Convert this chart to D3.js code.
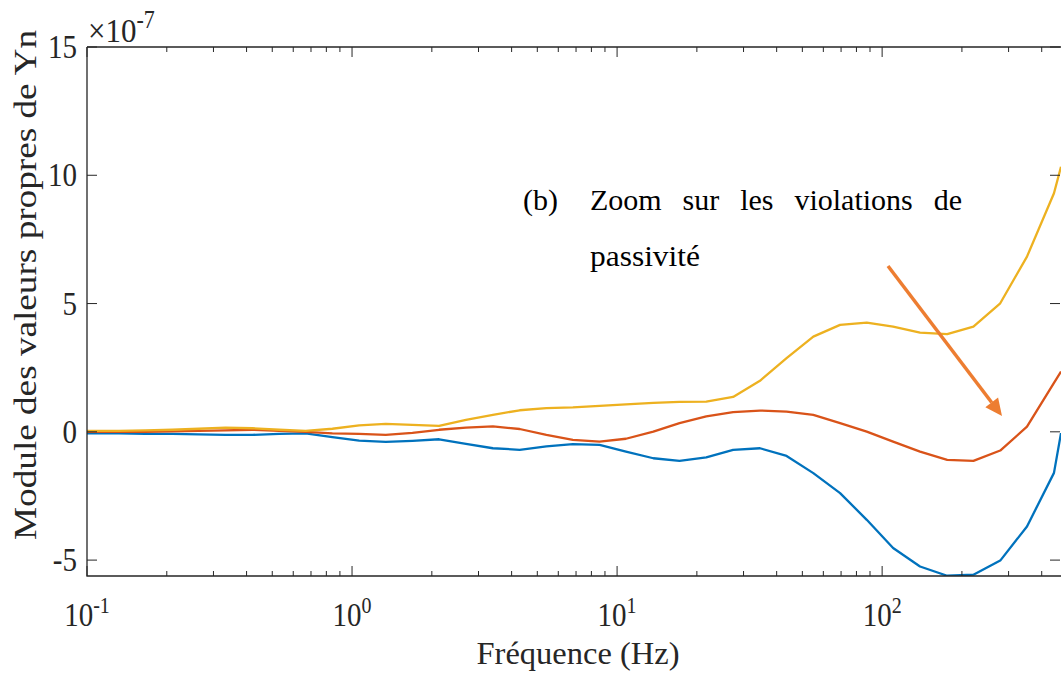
<!DOCTYPE html>
<html>
<head>
<meta charset="utf-8">
<script src="https://cdn.jsdelivr.net/npm/d3@7"></script>
<style>
  html, body { margin: 0; padding: 0; background: #fff; }
  svg { display: block; }
  svg text { font-family: "Times New Roman", "Liberation Serif", "DejaVu Serif", serif; fill: #262626; }
</style>
</head>
<body>
<svg id="chart" width="1061" height="674"></svg>
<script>
// Frequencies (Hz) of the sampled points
const freq = [0.1, 0.1045, 0.132, 0.166, 0.210, 0.264, 0.333, 0.421, 0.531, 0.668, 0.843,
  1.064, 1.34, 1.69, 2.13, 2.69, 3.40, 4.29, 5.41, 6.81, 8.59,
  10.8, 13.7, 17.2, 21.7, 27.4, 34.6, 43.6, 55.0, 69.4, 87.5,
  110, 139, 176, 221, 279, 352, 445, 473];

// Eigenvalue magnitudes, units of 1e-7
const eig1 = [-0.06, -0.06, -0.06, -0.08, -0.08, -0.10, -0.12, -0.12, -0.08, -0.06, -0.21,
  -0.34, -0.39, -0.35, -0.29, -0.47, -0.64, -0.70, -0.57, -0.48, -0.51,
  -0.77, -1.03, -1.13, -1.00, -0.70, -0.64, -0.94, -1.61, -2.39, -3.43,
  -4.53, -5.25, -5.61, -5.57, -5.02, -3.69, -1.60, -0.05];
const eig2 = [0.00, 0.00, 0.00, 0.00, 0.02, 0.04, 0.06, 0.08, 0.04, 0.00, -0.06,
  -0.08, -0.12, -0.04, 0.08, 0.16, 0.21, 0.11, -0.12, -0.31, -0.38,
  -0.27, 0.01, 0.34, 0.60, 0.77, 0.83, 0.79, 0.66, 0.34, 0.01,
  -0.38, -0.77, -1.09, -1.13, -0.73, 0.20, 1.91, 2.35];
const eig3 = [0.04, 0.04, 0.04, 0.06, 0.08, 0.12, 0.16, 0.14, 0.08, 0.04, 0.12,
  0.25, 0.31, 0.27, 0.23, 0.47, 0.66, 0.84, 0.92, 0.95, 1.01,
  1.07, 1.13, 1.17, 1.18, 1.36, 1.99, 2.87, 3.71, 4.17, 4.26,
  4.10, 3.87, 3.81, 4.10, 5.01, 6.83, 9.30, 10.33];

const seriesColors = ["#0072BD", "#D95319", "#EDB120"];
const xTickExp = [-1, 0, 1, 2];
const yTicks = [-5, 0, 5, 10, 15];

(function () {
const svg = d3.select("#chart");
const FONT = '"Times New Roman", "Liberation Serif", "DejaVu Serif", serif';
const pL = 87, pR = 1061, pT = 47, pB = 576;

const x = d3.scaleLog().domain([0.1, 473]).range([pL, pR]);
const y = d3.scaleLinear().domain([-5.62, 15]).range([pB, pT]);

svg.append("defs").append("clipPath").attr("id", "clip")
  .append("rect").attr("x", pL).attr("y", pT).attr("width", pR - pL).attr("height", pB - pT);

const line = d3.line().x((d, i) => x(freq[i])).y(d => y(d));
const g = svg.append("g").attr("clip-path", "url(#clip)");
[eig1, eig2, eig3].forEach((s, k) => {
  g.append("path").datum(s).attr("d", line)
    .attr("fill", "none").attr("stroke", seriesColors[k])
    .attr("stroke-width", 2.3).attr("stroke-linejoin", "round");
});

const axisColor = "#262626";
const minorTicks = [];
for (let e = -1; e <= 2; e++) for (let m = 1; m <= 9; m++) {
  const v = m * Math.pow(10, e);
  if (v >= 0.1 && v <= 473) minorTicks.push(v);
}
const axG = svg.append("g");
axG.append("g").attr("transform", `translate(0,${pB})`)
  .call(d3.axisBottom(x).tickValues(minorTicks).tickSize(0).tickFormat(""))
  .call(gg => gg.select(".domain").remove());
minorTicks.forEach(v => {
  const major = Math.abs(Math.log10(v) - Math.round(Math.log10(v))) < 1e-9;
  const len = major ? 10 : 5;
  axG.append("line").attr("x1", x(v)).attr("x2", x(v)).attr("y1", pB).attr("y2", pB - len)
    .attr("stroke", axisColor).attr("stroke-width", 1);
  axG.append("line").attr("x1", x(v)).attr("x2", x(v)).attr("y1", pT).attr("y2", pT + len)
    .attr("stroke", axisColor).attr("stroke-width", 1);
});
yTicks.forEach(v => {
  axG.append("line").attr("x1", pL).attr("x2", pL + 10).attr("y1", y(v)).attr("y2", y(v))
    .attr("stroke", axisColor).attr("stroke-width", 1);
  axG.append("line").attr("x1", pR - 1).attr("x2", pR - 11).attr("y1", y(v)).attr("y2", y(v))
    .attr("stroke", axisColor).attr("stroke-width", 1);
});
axG.append("path")
  .attr("d", `M${pL},${pT}H${pR + 5}M${pL},${pT}V${pB}H${pR + 5}`)
  .attr("fill", "none").attr("stroke", axisColor).attr("stroke-width", 1.3);

function stext(xp, yp, size, sy, rot) {
  const gg = svg.append("g")
    .attr("transform", `translate(${xp},${yp})${rot ? ` rotate(${rot})` : ""} scale(1,${sy || 1})`);
  return gg.append("text").attr("x", 0).attr("y", 0).attr("font-size", size)
    .attr("font-family", FONT).style("font-family", FONT);
}

yTicks.forEach(v => {
  stext(77, y(v) + 11, 29, 1.15).attr("text-anchor", "end").text(v);
});
xTickExp.forEach(e => {
  const t = stext(x(Math.pow(10, e)), 626, 29, 1.15).attr("text-anchor", "middle");
  t.append("tspan").text("10");
  t.append("tspan").attr("dy", -11).attr("font-size", 20).text(e);
});
const ex = stext(88, 42, 31, 1.1);
ex.append("tspan").text("×10");
ex.append("tspan").attr("dy", -13).attr("font-size", 22).text("-7");

stext(578, 664, 31).attr("text-anchor", "middle")
  .attr("textLength", 203).attr("lengthAdjust", "spacingAndGlyphs").text("Fréquence (Hz)");
stext(36, 285, 31, 1, -90).attr("text-anchor", "middle")
  .attr("textLength", 510).attr("lengthAdjust", "spacingAndGlyphs")
  .text("Module des valeurs propres de Yn");

stext(523, 210, 30).style("fill", "#000").text("(b)");
const line1 = stext(590, 210, 30).style("fill", "#000").text("Zoom sur les violations de");
const w = line1.node().getComputedTextLength();
line1.attr("word-spacing", Math.max(0, (962 - 590 - w) / 4));
stext(590, 266, 30).style("fill", "#000")
  .attr("textLength", 110).attr("lengthAdjust", "spacingAndGlyphs").text("passivité");

const arrowColor = "#ED7D31";
const ax1 = 888, ay1 = 266, ax2 = 1002, ay2 = 416;
const ang = Math.atan2(ay2 - ay1, ax2 - ax1);
const hl = 17, hw = 8;
const bx = ax2 - hl * Math.cos(ang), by = ay2 - hl * Math.sin(ang);
svg.append("line").attr("x1", ax1).attr("y1", ay1).attr("x2", bx).attr("y2", by)
  .attr("stroke", arrowColor).attr("stroke-width", 3.5);
svg.append("path")
  .attr("d", `M${ax2},${ay2}L${bx + hw * Math.sin(ang)},${by - hw * Math.cos(ang)}L${bx - hw * Math.sin(ang)},${by + hw * Math.cos(ang)}Z`)
  .attr("fill", arrowColor);
})();
</script>
</body>
</html>
